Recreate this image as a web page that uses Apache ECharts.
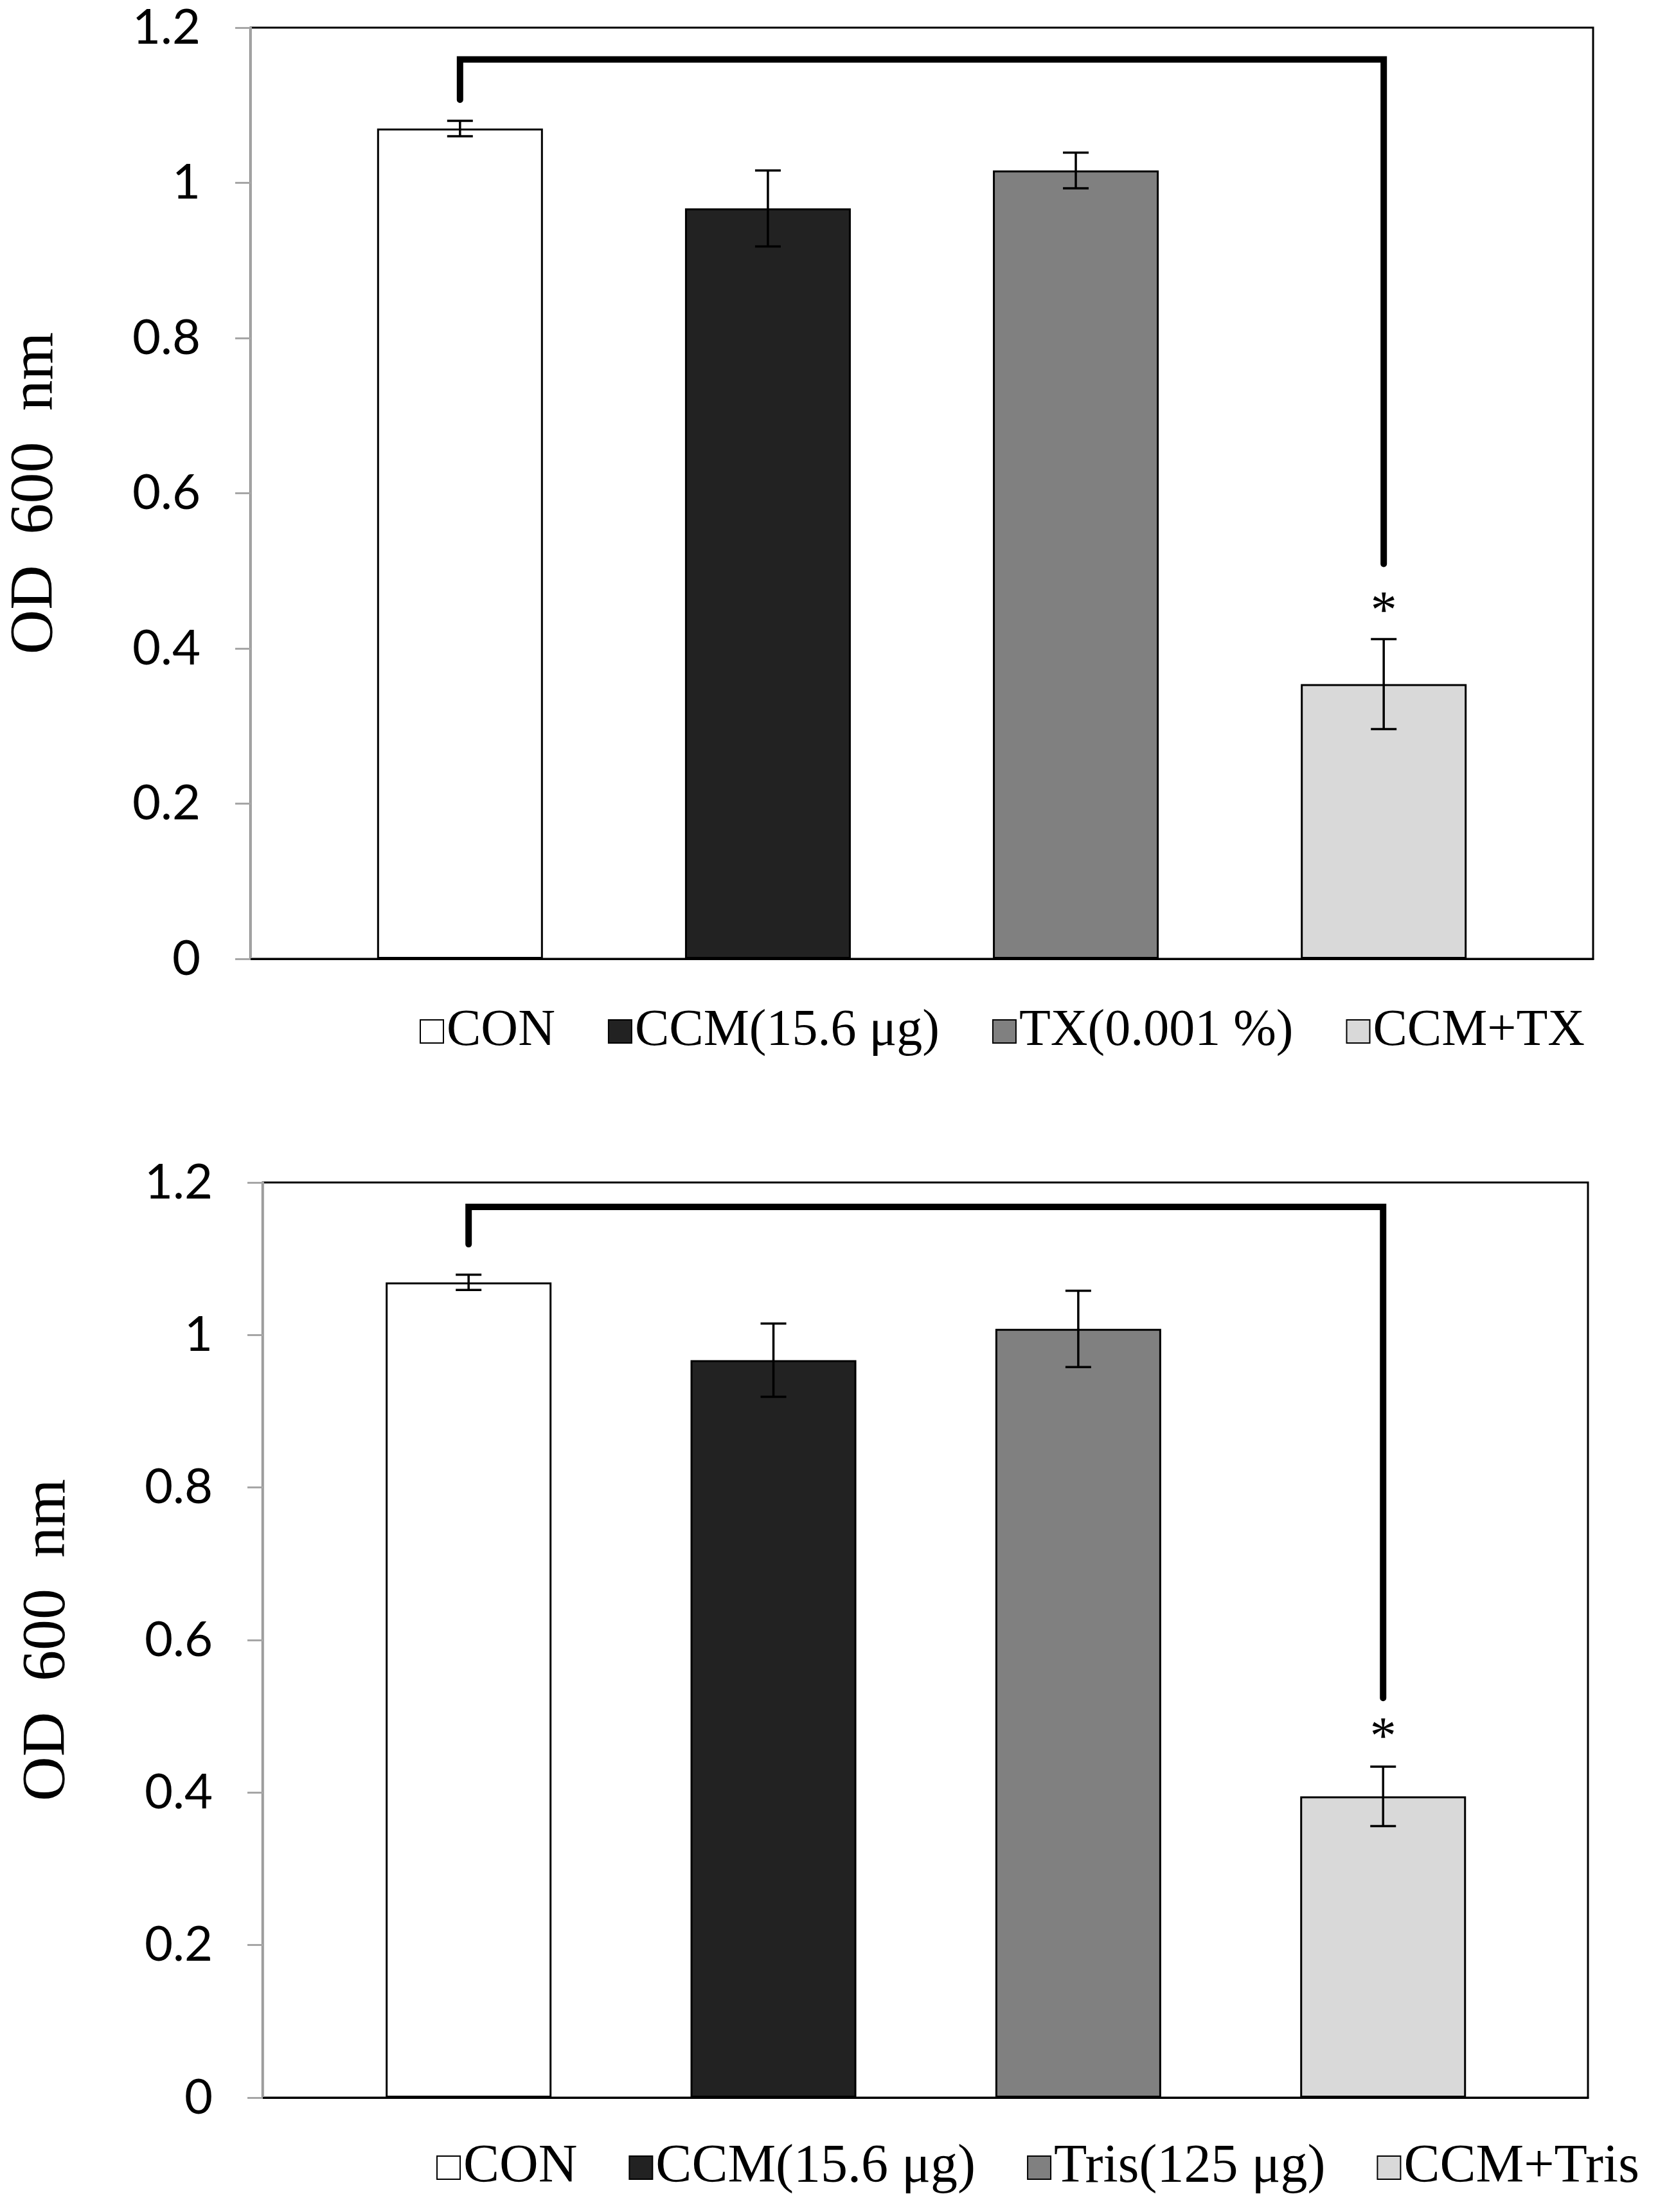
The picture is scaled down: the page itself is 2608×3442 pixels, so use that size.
<!DOCTYPE html>
<html>
<head>
<meta charset="utf-8">
<script src="https://cdn.jsdelivr.net/npm/echarts@6/dist/echarts.min.js"></script>
<style>
  body { margin: 0; background: #fff; }
  .main { width: 2608px; height: 1721px; }
</style>
</head>
<body>
<div class="main"></div>
<div class="main"></div>
<script>
// data
const namesTop = ['CON', 'CCM(15.6 μg)', 'TX(0.001 %)', 'CCM+TX'];
const meanTop = [1.070, 0.967, 1.016, 0.354];
const errTop = [0.010, 0.049, 0.023, 0.058];
// bracket: [x from, x to, y of bar, y left end, y right end], star y
const bracketTop = [0, 3, 1.159, 1.107, 0.509];
const starTop = [3, 0.445];

const namesBottom = ['CON', 'CCM(15.6 μg)', 'Tris(125 μg)', 'CCM+Tris'];
const meanBottom = [1.069, 0.967, 1.008, 0.395];
const errBottom = [0.010, 0.048, 0.050, 0.039];
const bracketBottom = [0, 3, 1.168, 1.119, 0.524];
const starBottom = [3, 0.470];

const yTicks = { min: 0, max: 1.2, interval: 0.2 };
const barColors = ['#ffffff', '#222222', '#808080', '#d9d9d9'];

function makeOption(names, means, errs, bracket, star, layout) {
    let series = names.map(function (n, i) {
        return {
            name: n,
            type: 'bar',
            barWidth: 258,
            barGap: '-100%',
            data: [[i, means[i]]],
            itemStyle: { color: barColors[i], borderColor: '#000', borderWidth: 3 }
        };
    });
    // error bars
    series.push({
        type: 'custom',
        z: 5,
        data: means.map(function (m, i) { return [i, m - errs[i], m + errs[i]]; }),
        renderItem: function (params, api) {
            let x = api.value(0);
            let hi = api.coord([x, api.value(2)]);
            let lo = api.coord([x, api.value(1)]);
            let w = 20;
            let st = { stroke: '#000', lineWidth: 3.5 };
            return {
                type: 'group',
                children: [
                    { type: 'line', shape: { x1: hi[0], y1: hi[1], x2: lo[0], y2: lo[1] }, style: st },
                    { type: 'line', shape: { x1: hi[0] - w, y1: hi[1], x2: hi[0] + w, y2: hi[1] }, style: st },
                    { type: 'line', shape: { x1: lo[0] - w, y1: lo[1], x2: lo[0] + w, y2: lo[1] }, style: st }
                ]
            };
        }
    });
    // significance bracket + star
    series.push({
        type: 'custom',
        z: 6,
        data: [bracket],
        renderItem: function (params, api) {
            let a = api.coord([api.value(0), api.value(3)]);
            let b = api.coord([api.value(0), api.value(2)]);
            let c = api.coord([api.value(1), api.value(2)]);
            let d = api.coord([api.value(1), api.value(4)]);
            let s = api.coord(star);
            return {
                type: 'group',
                children: [
                    {
                        type: 'polyline',
                        shape: { points: [a, b, c, d] },
                        style: { stroke: '#000', lineWidth: 10, fill: null, lineCap: 'round', lineJoin: 'miter' }
                    },
                    {
                        type: 'text',
                        x: s[0], y: s[1],
                        style: {
                            text: '*', fill: '#000', align: 'center', verticalAlign: 'middle',
                            font: '82px "Liberation Serif"'
                        }
                    }
                ]
            };
        }
    });

    return {
        animation: false,
        backgroundColor: '#fff',
        grid: {
            left: layout.left, right: layout.right, top: layout.top, bottom: layout.bottom,
            show: true, borderColor: '#000', borderWidth: 3, backgroundColor: '#fff'
        },
        legend: {
            data: names,
            left: layout.legendLeft,
            top: layout.legendTop,
            itemWidth: 36,
            itemHeight: 36,
            itemGap: layout.legendGap,
            icon: 'rect',
            textStyle: { fontFamily: 'Liberation Serif', fontSize: layout.legendFont, color: '#000' }
        },
        xAxis: {
            type: 'value',
            min: layout.xMin,
            max: layout.xMax,
            axisLine: { show: true, onZero: false, lineStyle: { color: '#000', width: 3 } },
            axisTick: { show: false },
            axisLabel: { show: false },
            splitLine: { show: false }
        },
        yAxis: {
            type: 'value',
            min: yTicks.min,
            max: yTicks.max,
            interval: yTicks.interval,
            name: 'OD  600  nm',
            nameLocation: 'middle',
            nameRotate: 90,
            nameGap: 286,
            nameTextStyle: { fontFamily: 'Liberation Serif', fontSize: 96, color: '#000' },
            axisLine: { show: true, onZero: false, lineStyle: { color: '#a6a6a6', width: 3 } },
            axisTick: { show: true, length: 24, lineStyle: { color: '#a6a6a6', width: 3 } },
            axisLabel: { margin: 78, fontFamily: 'Lato', fontSize: 76, color: '#000' },
            splitLine: { show: false }
        },
        series: series
    };
}

window.addEventListener('load', function () {
    let main = document.querySelectorAll('.main');

    let top = echarts.init(main[0]);
    top.setOption(makeOption(namesTop, meanTop, errTop, bracketTop, starTop, {
        left: 389, right: 129, top: 43, bottom: 229,
        xMin: -0.68, xMax: 3.68,
        legendLeft: 648, legendTop: 1560, legendGap: 82, legendFont: 80
    }));

    let bottom = echarts.init(main[1]);
    bottom.setOption(makeOption(namesBottom, meanBottom, errBottom, bracketBottom, starBottom, {
        left: 409, right: 137, top: 119, bottom: 178,
        xMin: -0.675, xMax: 3.672,
        legendLeft: 674, legendTop: 1605, legendGap: 80, legendFont: 84
    }));
});
</script>
</body>
</html>
